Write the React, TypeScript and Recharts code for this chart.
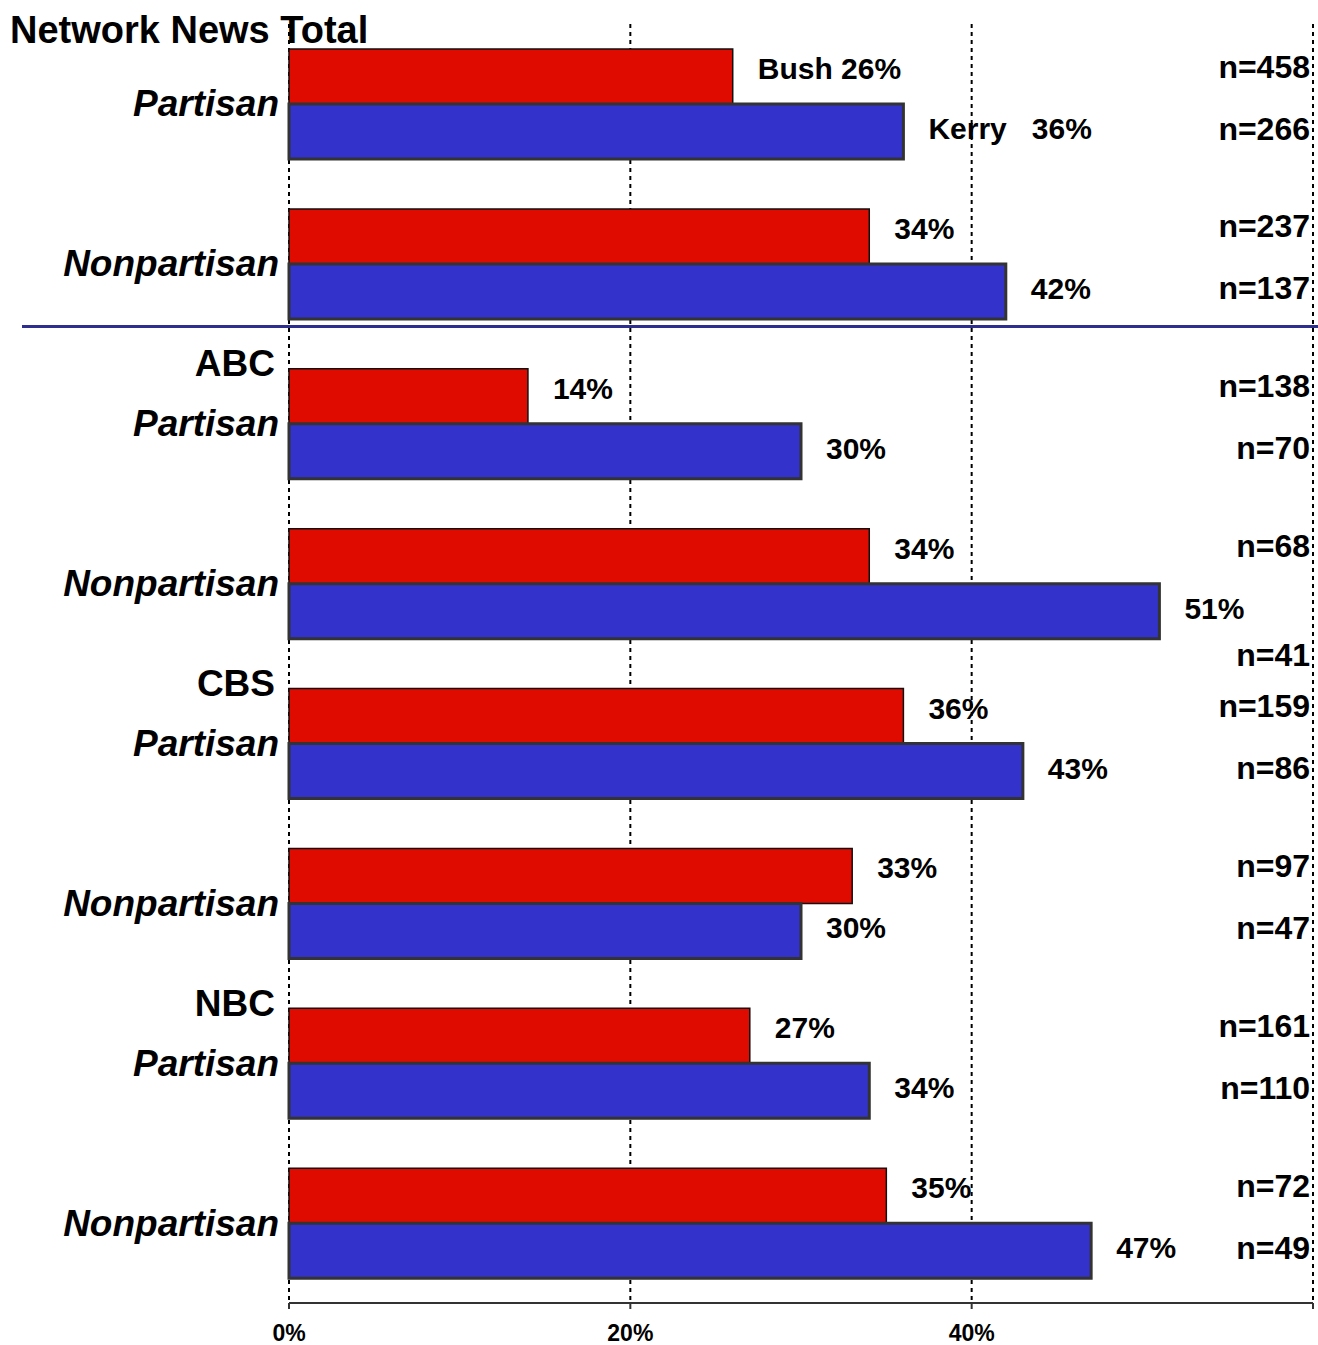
import React from 'react';
import { BarChart, Bar, XAxis, YAxis, CartesianGrid, LabelList } from 'recharts';

const segments = ['Partisan', 'Nonpartisan', 'Partisan', 'Nonpartisan', 'Partisan', 'Nonpartisan', 'Partisan', 'Nonpartisan'];
const networks = ['', '', 'ABC', '', 'CBS', '', 'NBC', ''];
const bushPct = [26, 34, 14, 34, 36, 33, 27, 35];
const kerryPct = [36, 42, 30, 51, 43, 30, 34, 47];
const bushN = [458, 237, 138, 68, 159, 97, 161, 72];
const kerryN = [266, 137, 70, 41, 86, 47, 110, 49];
const xTicks = [0, 20, 40, 60];

const data = segments.map((s, i) => ({
  key: `${i}-${s}`,
  bush: bushPct[i],
  kerry: kerryPct[i],
}));

const W = 1318;
const H = 1345;
const MARGIN = { top: 24, right: 5, left: 0, bottom: 0 };
const FONT = '"Liberation Sans", Arial, Helvetica, sans-serif';
const PCT_SIZE = 30;
const N_SIZE = 32;
const PCT_GAP = 25;
const N_RIGHT = W - MARGIN.right - 3;

const SegmentTick = (props: any) => {
  const { x, y, index } = props;
  return (
    <g>
      {networks[index] ? (
        <text x={x - 4} y={y - 60} textAnchor="end" dominantBaseline="central"
          fontFamily={FONT} fontWeight="bold" fontSize={37} fill="#000">
          {networks[index]}
        </text>
      ) : null}
      <text x={x} y={y} textAnchor="end" dominantBaseline="central"
        fontFamily={FONT} fontWeight="bold" fontStyle="italic" fontSize={37} fill="#000">
        {segments[index]}
      </text>
    </g>
  );
};

// rough text width for bold sans at a given size
const textW = (s: string, size: number) => s.length * size * 0.6;

const pctText = (prefix: string, value: number, index: number) =>
  index === 0 && prefix ? `${prefix}${value}%` : `${value}%`;

const pctLabel = (prefix: string, dy: number) => (props: any) => {
  const { x, y, width, height, value, index } = props;
  return (
    <text x={x + width + PCT_GAP} y={y + height / 2 + dy} dominantBaseline="central"
      fontFamily={FONT} fontWeight="bold" fontSize={PCT_SIZE} fill="#000" style={{ whiteSpace: 'pre' }}>
      {pctText(prefix, value, index)}
    </text>
  );
};

const nLabel = (counts: number[], prefix: string, dy: number) => (props: any) => {
  const { x, y, width, height, value, index } = props;
  const label = `n=${counts[index]}`;
  const pctEnd = x + width + PCT_GAP + textW(pctText(prefix, value, index), PCT_SIZE);
  // push the count below the bar when it would run into the percentage label
  const shift = pctEnd > N_RIGHT - textW(label, N_SIZE) ? height * 0.85 : 0;
  return (
    <text x={N_RIGHT} y={y + height / 2 + dy + shift} textAnchor="end" dominantBaseline="central"
      fontFamily={FONT} fontWeight="bold" fontSize={N_SIZE} fill="#000">
      {label}
    </text>
  );
};

export default function App() {
  return (
    <div style={{ position: 'relative', width: W, height: H, background: '#fff' }}>
      <style>{`body{margin:0;}`}</style>
      <BarChart
        width={W}
        height={H}
        data={data}
        layout="vertical"
        margin={MARGIN}
        barGap={0}
        barCategoryGap={25}
      >
        <CartesianGrid horizontal={false} stroke="#000" strokeWidth={2} strokeDasharray="4 4" />
        <XAxis
          type="number"
          domain={[0, 60]}
          ticks={xTicks}
          height={42}
          axisLine={{ stroke: '#333', strokeWidth: 2 }}
          tickLine={{ stroke: '#333', strokeWidth: 2 }}
          tickSize={6}
          tickMargin={16}
          tickFormatter={(v: number) => (v === 60 ? '' : `${v}%`)}
          tick={{ fontFamily: FONT, fontWeight: 'bold', fontSize: 23, fill: '#000' }}
          interval={0}
        />
        <YAxis
          type="category"
          dataKey="key"
          width={289}
          axisLine={false}
          tickLine={false}
          tickSize={0}
          tickMargin={10}
          tick={<SegmentTick />}
          interval={0}
        />
        <Bar dataKey="bush" fill="#E00B00" stroke="#111" strokeWidth={1.5} isAnimationActive={false}>
          <LabelList dataKey="bush" content={pctLabel('Bush ', -8)} />
          <LabelList dataKey="bush" content={nLabel(bushN, 'Bush ', -10)} />
        </Bar>
        <Bar dataKey="kerry" fill="#3333CC" stroke="#333" strokeWidth={3} isAnimationActive={false}>
          <LabelList dataKey="kerry" content={pctLabel('Kerry   ', -3)} />
          <LabelList dataKey="kerry" content={nLabel(kerryN, 'Kerry   ', -3)} />
        </Bar>
      </BarChart>
      <div style={{ position: 'absolute', left: 10, top: 9, fontFamily: FONT, fontWeight: 'bold', fontSize: 38, lineHeight: '42px', color: '#000' }}>
        Network News Total
      </div>
      <div style={{ position: 'absolute', left: 22, top: 325, width: W - 22, height: 3, background: '#2E2E8F' }} />
    </div>
  );
}
